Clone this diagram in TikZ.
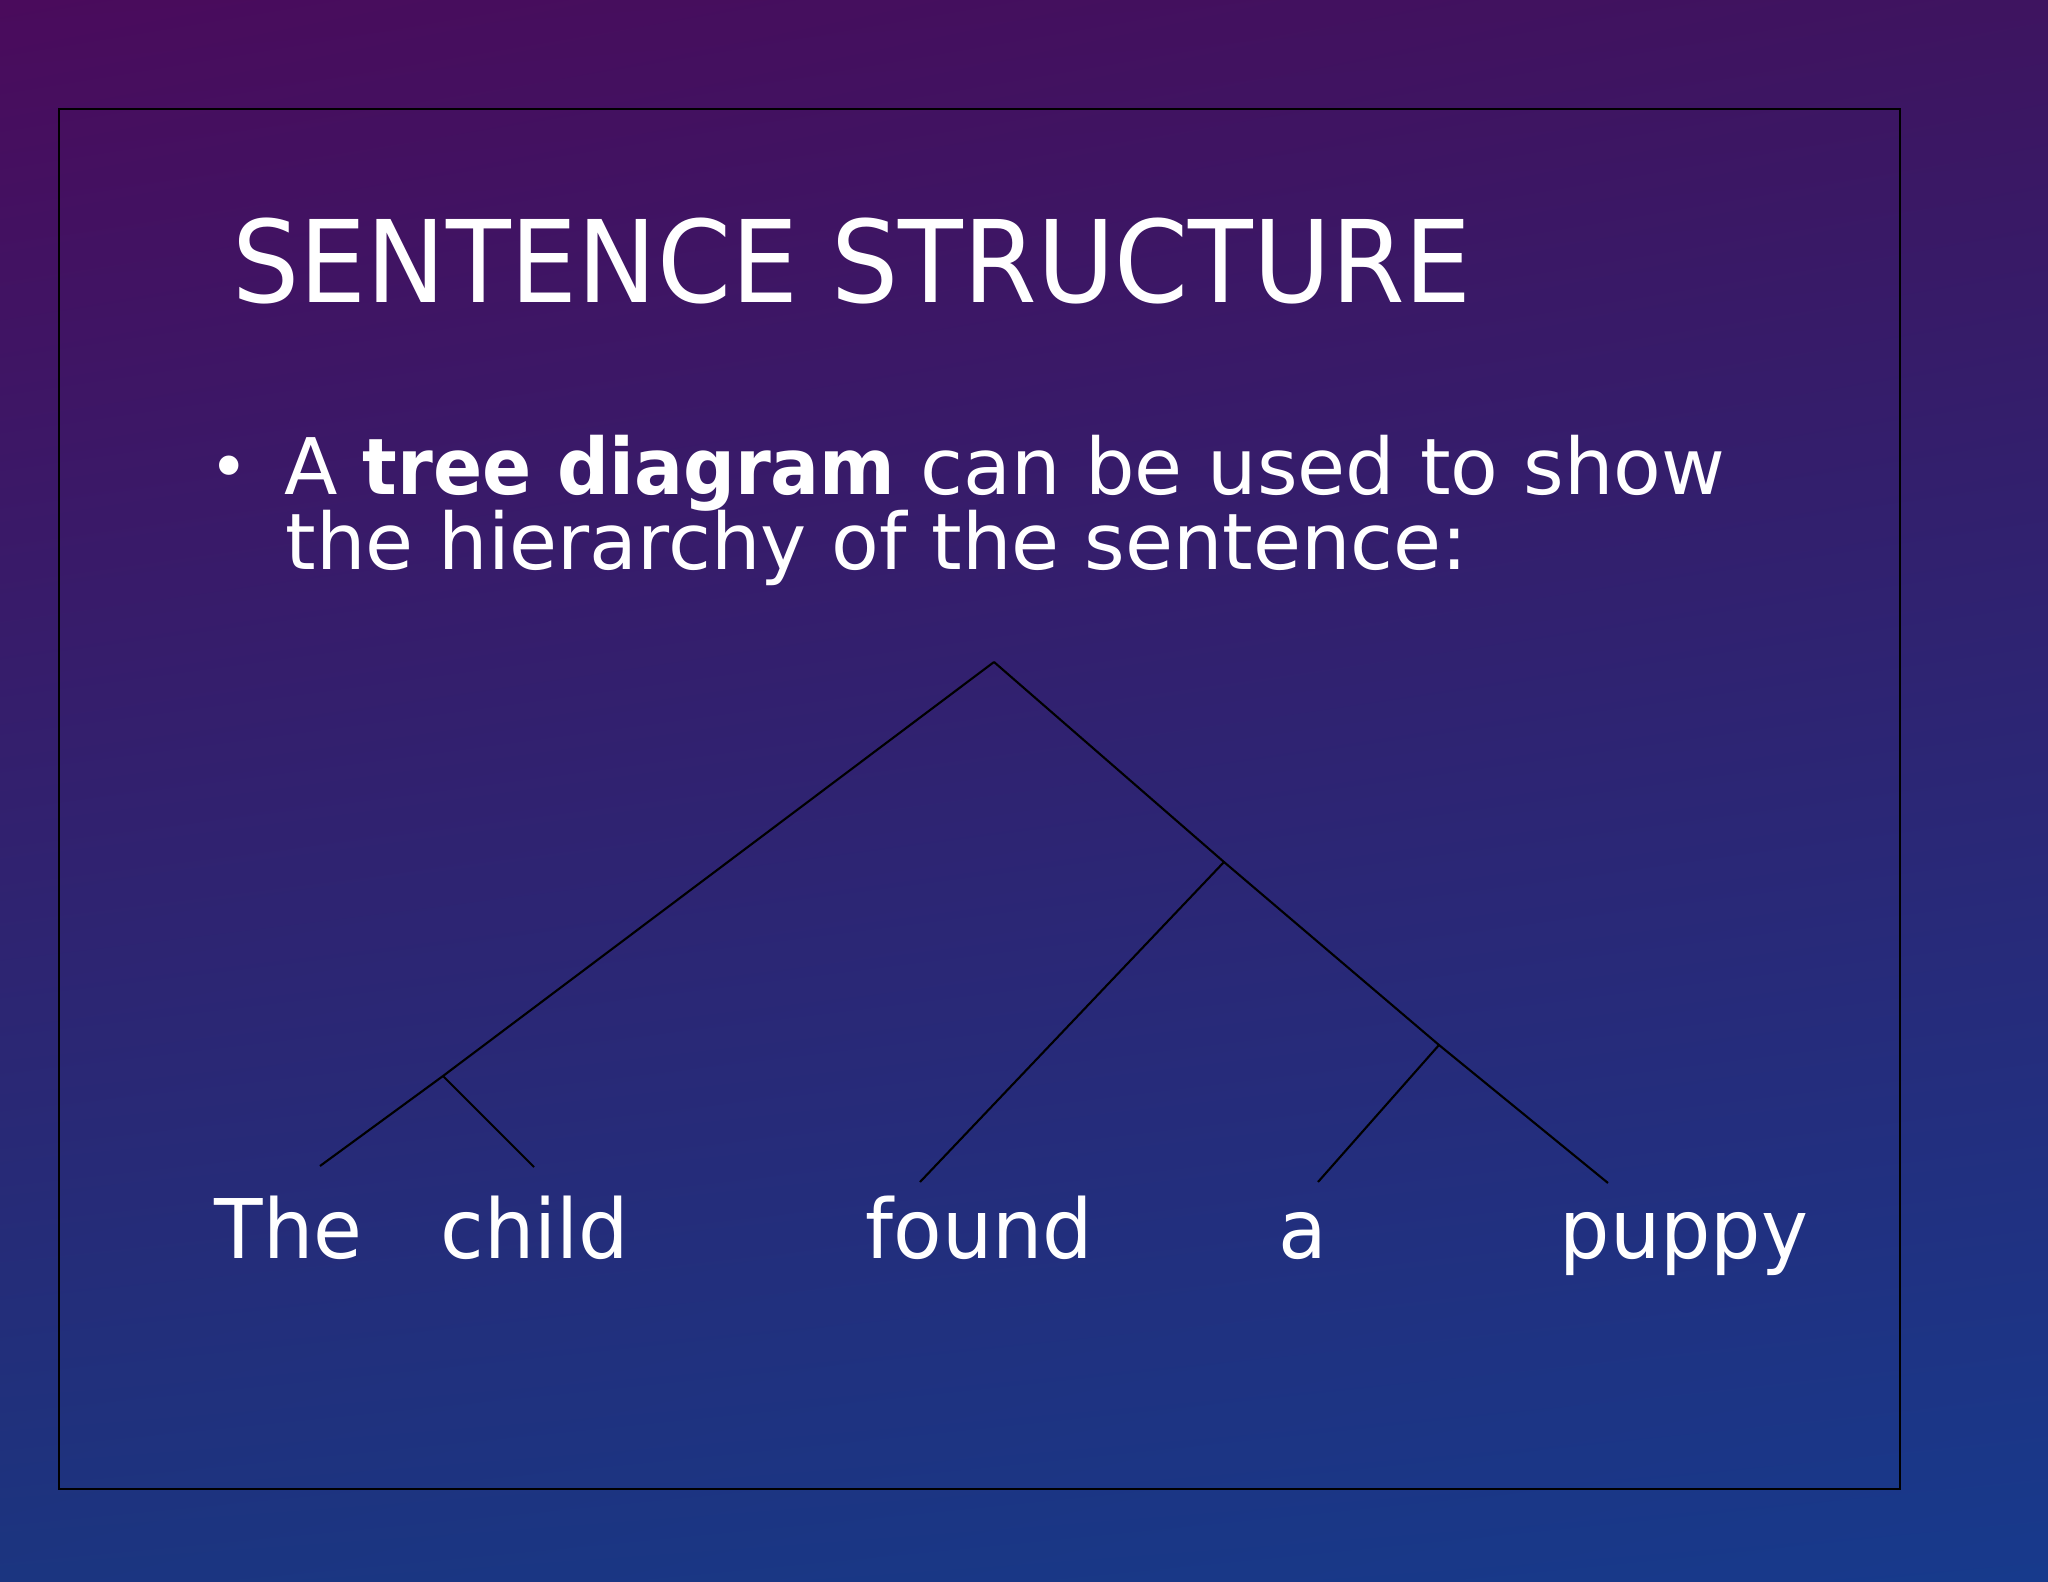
\documentclass[tikz,border=0pt]{standalone}
\usepackage{fontspec}
\usetikzlibrary{shadings}
\setmainfont{DejaVu Sans}[BoldFeatures={FakeStretch=0.93}]
\newfontfamily\titlefont[FakeStretch=0.93]{DejaVu Sans}
\newfontfamily\wordfont[FakeStretch=0.965]{DejaVu Sans}
\definecolor{skyTL}{HTML}{4A0B5C}
\definecolor{skyTR}{HTML}{3E1460}
\definecolor{skyBL}{HTML}{1B3580}
\definecolor{skyBR}{HTML}{173A8C}
\begin{document}
\begin{tikzpicture}[x=0.01cm,y=-0.01cm,
    branch/.style={draw=black,line width=0.6pt},
    bodytext/.style={anchor=base west,inner sep=0pt,text=white,font=\fontsize{22.2}{26}\selectfont},
    word/.style={anchor=base west,inner sep=0pt,text=white,font=\wordfont\fontsize{23.4}{28}\selectfont}]
         % background and frame
         \shade[upper left=skyTL,upper right=skyTR,lower left=skyBL,lower right=skyBR] (0,0) rectangle (2048,1582) ;
         \draw[black,line width=0.6pt] (59,109) rectangle (1900,1489) ;
         % title and bullet
         \node[anchor=base west,inner sep=0pt,text=white,font=\titlefont\fontsize{32.4}{38}\selectfont] (title) at (232,302) {SENTENCE STRUCTURE} ;
         \node[bodytext,anchor=base,font=\fontsize{19}{22}\selectfont] (bullet) at (229,490) {•} ;
         \node[bodytext] (lineA) at (284,494) {A \textbf{tree diagram} can be used to show} ;
         \node[bodytext] (lineB) at (285,569) {the hierarchy of the sentence:} ;
         % words
         \node[word] (the) at (214,1258) {The} ;
         \node[word] (child) at (440,1258) {child} ;
         \node[word] (found) at (865,1258) {found} ;
         \node[word] (a) at (1278,1258) {a} ;
         \node[word] (puppy) at (1559,1258) {puppy} ;
         % tree points
         \coordinate (apex) at (994,662) ;
         \coordinate (np) at (443,1076) ;
         \coordinate (vp) at (1224,862) ;
         \coordinate (obj) at (1439,1045) ;
         \coordinate (endThe) at (320,1166) ;
         \coordinate (endChild) at (534,1167) ;
         \coordinate (endFound) at (920,1182) ;
         \coordinate (endA) at (1318,1182) ;
         \coordinate (endPuppy) at (1608,1183) ;
         % branches
         \draw[branch] (apex) -- (np) -- (endThe) ;
         \draw[branch] (np) -- (endChild) ;
         \draw[branch] (apex) -- (vp) -- (obj) -- (endPuppy) ;
         \draw[branch] (vp) -- (endFound) ;
         \draw[branch] (obj) -- (endA) ;
       \end{tikzpicture}
\end{document}
